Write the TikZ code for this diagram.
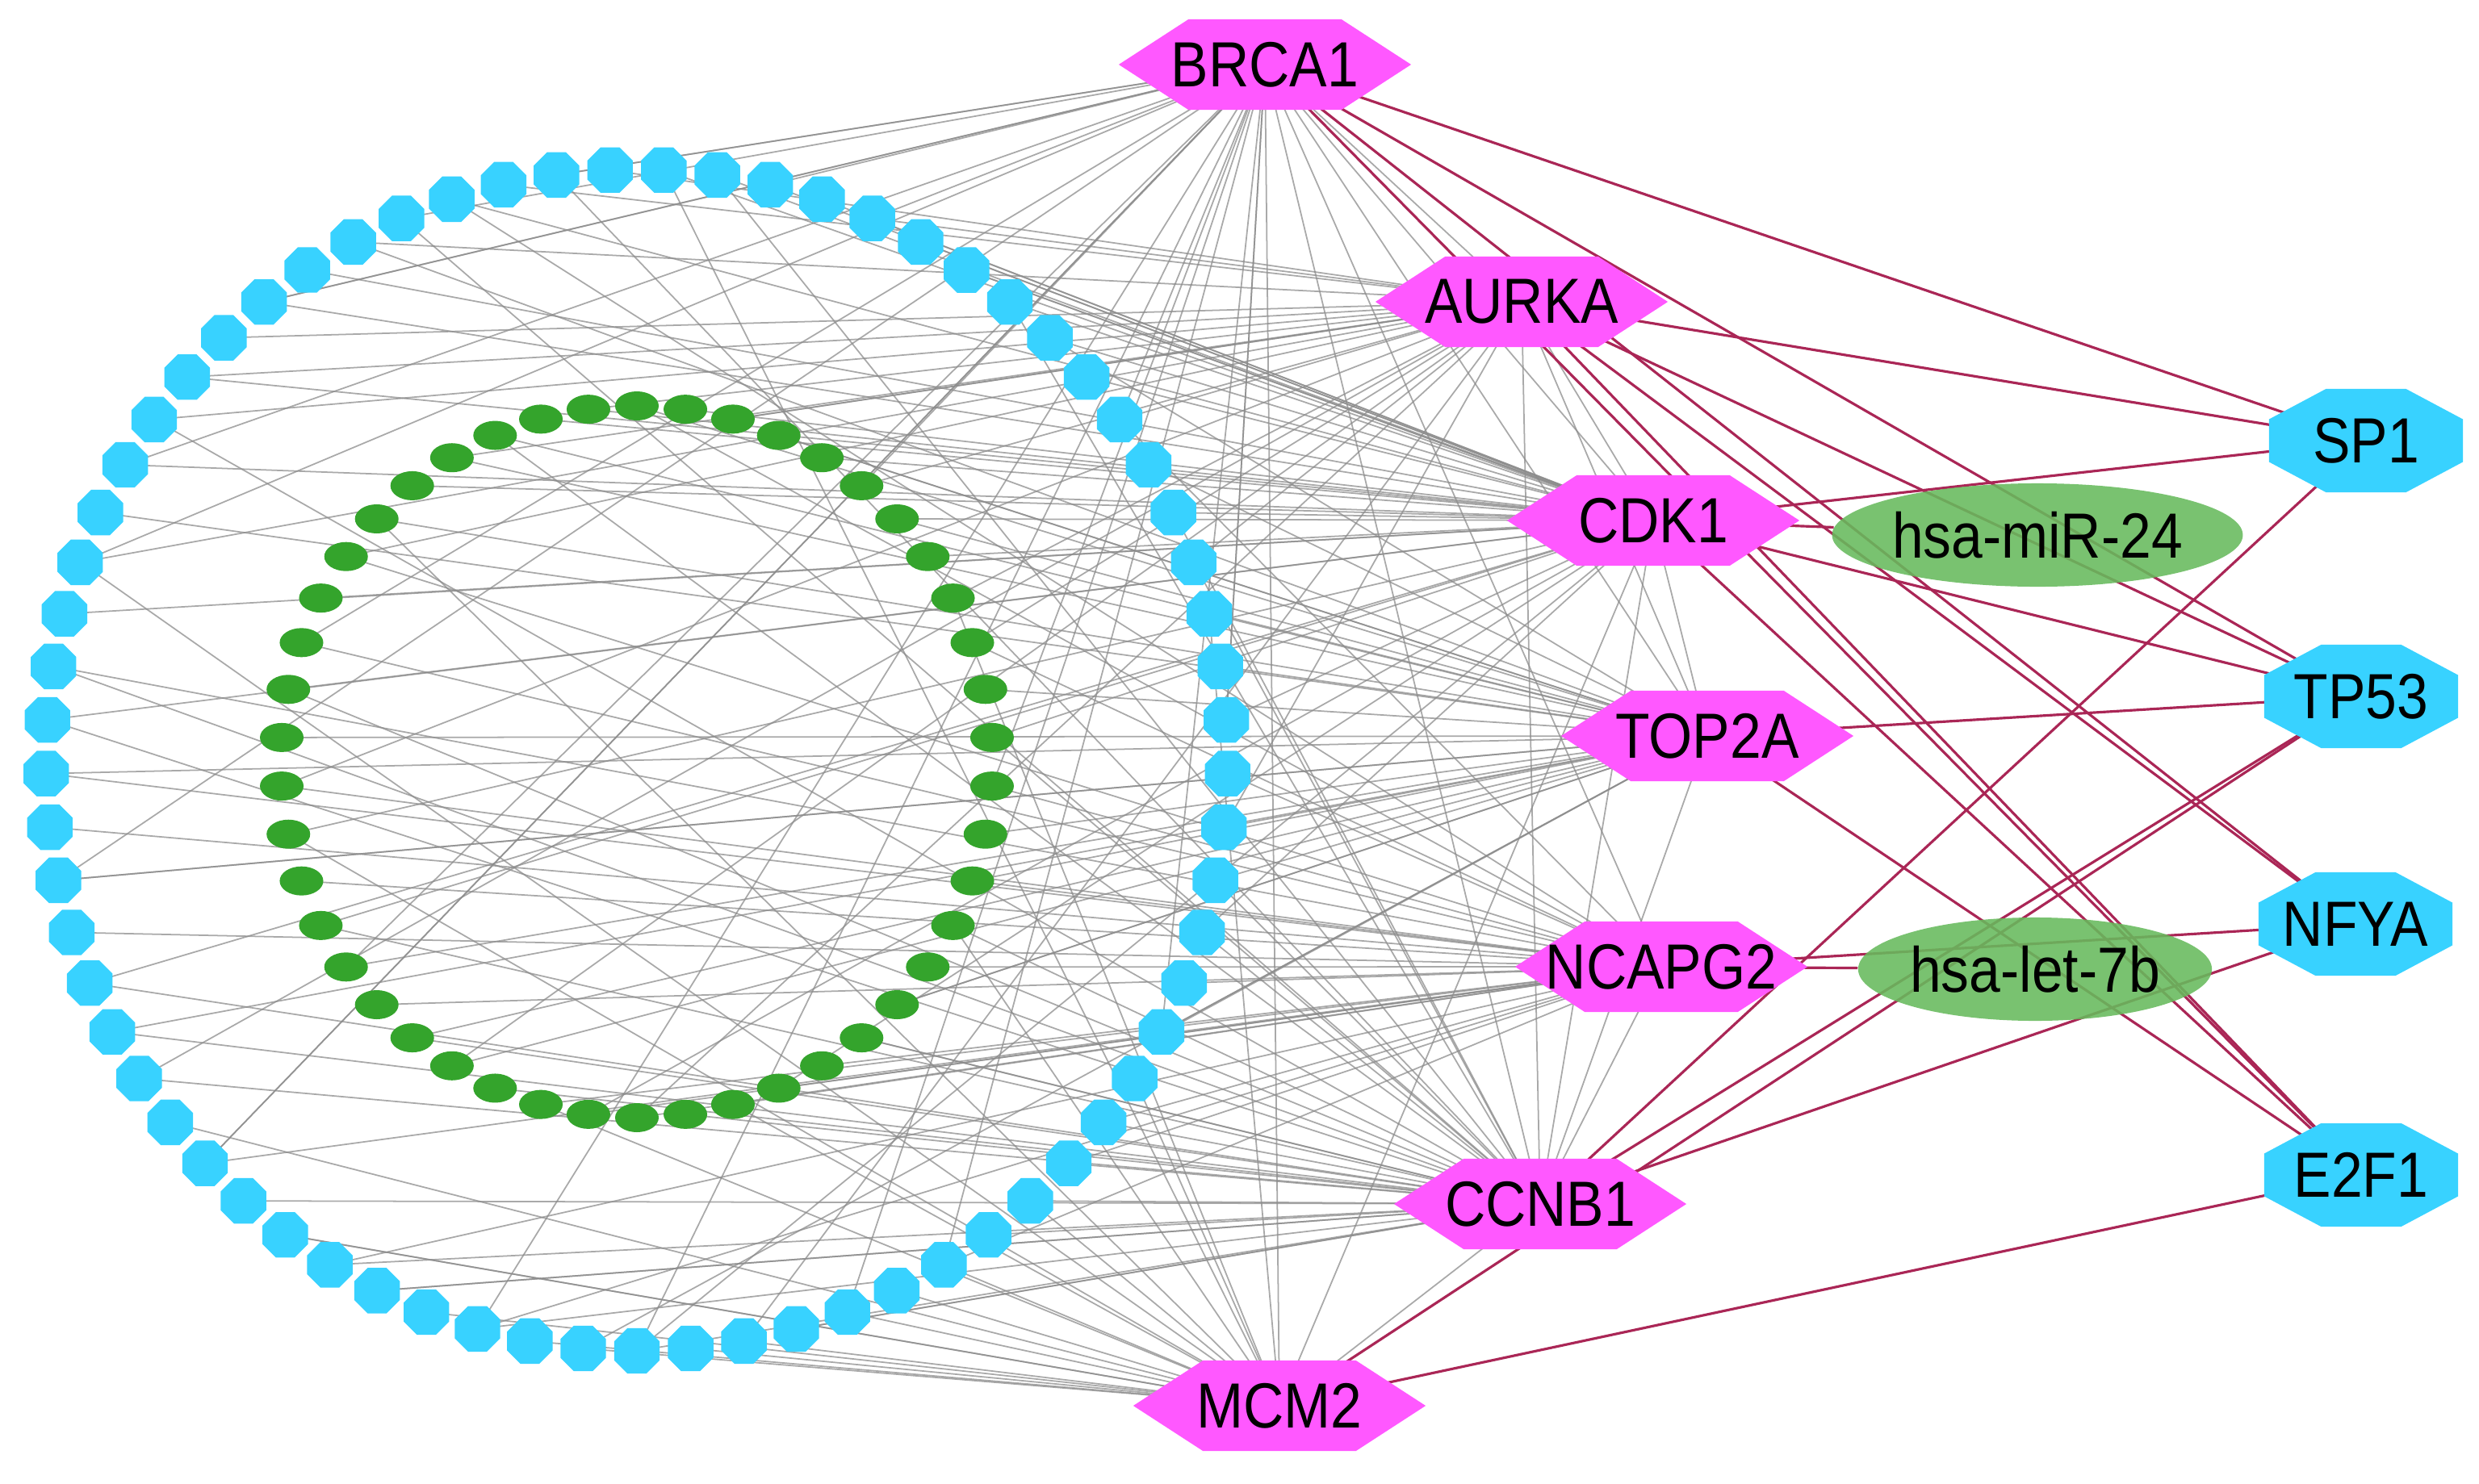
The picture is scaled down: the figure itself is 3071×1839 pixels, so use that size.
\documentclass[tikz,border=0pt]{standalone}
\usepackage{fontspec}
\usepackage{graphicx}
\newfontfamily\lblfont{Liberation Sans}[FakeStretch=0.88]
\usetikzlibrary{shapes.symbols,shapes.geometric}

\definecolor{hubpink}{RGB}{255,88,255}
\definecolor{tfcyan}{RGB}{56,210,255}
\definecolor{mirgreen}{RGB}{102,186,92}
\definecolor{dotgreen}{RGB}{52,164,44}
\definecolor{regred}{RGB}{170,38,86}
\definecolor{ppigray}{RGB}{140,140,140}

\pgfdeclarelayer{background}
\pgfsetlayers{background,main}

\newcommand\zw[1]{\makebox[0pt]{#1}}
\newcommand\tftext[1]{\zw{\scalebox{0.5333}[1]{#1}}}

\tikzset{
  lbl/.style={font=\lblfont\fontsize{22.5}{27}\selectfont, text opacity=1},
  hubnode/.style={lbl, signal, signal to=east and west, signal pointer angle=66,
    fill=hubpink, inner sep=0pt, minimum width=3.62cm, minimum height=1.12cm},
  tfnode/.style={lbl, regular polygon, regular polygon sides=8, xscale=1.875,
    fill=tfcyan, inner sep=0pt, minimum size=1.385cm},
  mirnode/.style={lbl, ellipse, fill=mirgreen, fill opacity=0.88, inner sep=0pt,
    minimum width=4.38cm, minimum height=1.28cm},
  tgdot/.style={regular polygon, regular polygon sides=8, fill=tfcyan, inner sep=0pt,
    minimum size=0.61cm},
  midot/.style={ellipse, fill=dotgreen, inner sep=0pt, minimum width=0.54cm,
    minimum height=0.36cm},
  ppi/.style={draw=ppigray, line width=0.5pt, draw opacity=0.75},
  reg/.style={draw=regred, line width=0.9pt},
}

\begin{document}
\begin{tikzpicture}[x=0.01cm,y=-0.01cm]
\useasboundingbox (0,0) rectangle (3071,1839);

% hub genes
\node[hubnode, alias=h0] (BRCA1) at (1567,80) {\zw{BRCA1}};
\node[hubnode, alias=h1] (AURKA) at (1885,374) {\zw{AURKA}};
\node[hubnode, alias=h2] (CDK1) at (2048,645) {\zw{CDK1}};
\node[hubnode, alias=h3] (TOP2A) at (2115,912) {\zw{TOP2A}};
\node[hubnode, alias=h4] (NCAPG2) at (2058,1198) {\zw{NCAPG2}};
\node[hubnode, alias=h5] (CCNB1) at (1908,1492) {\zw{CCNB1}};
\node[hubnode, alias=h6] (MCM2) at (1585,1742) {\zw{MCM2}};

% transcription factors
\node[tfnode] (SP1) at (2931,546) {\tftext{SP1}};
\node[tfnode] (TP53) at (2925,863) {\tftext{TP53}};
\node[tfnode] (NFYA) at (2918,1145) {\tftext{NFYA}};
\node[tfnode] (E2F1) at (2925,1456) {\tftext{E2F1}};

% miRNAs
\node[mirnode] (miR24) at (2524,663) {hsa-miR-24};
\node[mirnode] (let7b) at (2521,1201) {hsa-let-7b};

% outer ring
\foreach \k in {0,...,68}{
  \pgfmathsetmacro\a{-90+(360/69)*\k}
  \node[tgdot] (tg\k) at ({789+732*cos(\a)},{942-732*sin(\a)}) {};
}
% inner ring
\foreach \j in {0,...,45}{
  \pgfmathsetmacro\b{-90+(360/46)*\j}
  \node[midot] (mi\j) at ({789+441*cos(\b)},{944-441*sin(\b)}) {};
}

\begin{pgfonlayer}{background}
% outer ring to hubs
\foreach \k in {0,...,68}{
  \pgfmathsetmacro\a{-90+(360/69)*\k}
  \pgfmathtruncatemacro\hp{max(0,min(6,round((862-732*sin(\a))/277)+mod(\k,3)-1))}
  \ifnum\k>24 \ifnum\k<35 \def\hp{2}\fi\fi
  \pgfmathtruncatemacro\hs{mod(\k*3+2,7)}
  \pgfmathtruncatemacro\n{mod(\k,3)}
  \draw[ppi] (tg\k.center) -- (h\hp.center);
  \ifodd\k\else \draw[ppi] (tg\k.center) -- (h\hs.center);\fi
  \ifnum\n=0 \ifodd\k \draw[ppi] (tg\k.center) -- (CCNB1.center);
    \else \draw[ppi] (tg\k.center) -- (BRCA1.center);\fi\fi
}
% inner ring to hubs
\foreach \j in {0,...,45}{
  \pgfmathsetmacro\b{-90+(360/46)*\j}
  \pgfmathtruncatemacro\hp{max(0,min(6,round((864-441*sin(\b))/277)+mod(\j,3)-1))}
  \pgfmathtruncatemacro\hs{mod(\j*5+1,7)}
  \draw[ppi] (mi\j.center) -- (h\hp.center);
  \pgfmathtruncatemacro\m{mod(\j,3)}
  \ifnum\m=1 \else \draw[ppi] (mi\j.center) -- (h\hs.center);\fi
}
% hub to hub
\foreach \u/\v in {BRCA1/AURKA, BRCA1/CDK1, BRCA1/TOP2A, BRCA1/NCAPG2, BRCA1/CCNB1,
  BRCA1/MCM2, AURKA/CDK1, AURKA/TOP2A, AURKA/CCNB1, CDK1/TOP2A, CDK1/CCNB1,
  CDK1/MCM2, TOP2A/CCNB1, NCAPG2/CCNB1, CCNB1/MCM2}
  \draw[ppi] (\u.center) -- (\v.center);
% regulators
\foreach \g/\t in {BRCA1/SP1, BRCA1/TP53, BRCA1/NFYA, BRCA1/E2F1,
  AURKA/SP1, AURKA/TP53, AURKA/NFYA, AURKA/E2F1,
  CDK1/SP1, CDK1/TP53, CDK1/E2F1,
  TOP2A/TP53, TOP2A/E2F1, NCAPG2/NFYA,
  CCNB1/SP1, CCNB1/TP53, CCNB1/NFYA, MCM2/TP53, MCM2/E2F1}
  \draw[reg] (\g.center) -- (\t.center);
\draw[reg] (CDK1.center) -- (miR24);
\draw[reg] (NCAPG2.center) -- (let7b);
\end{pgfonlayer}
\end{tikzpicture}
\end{document}
